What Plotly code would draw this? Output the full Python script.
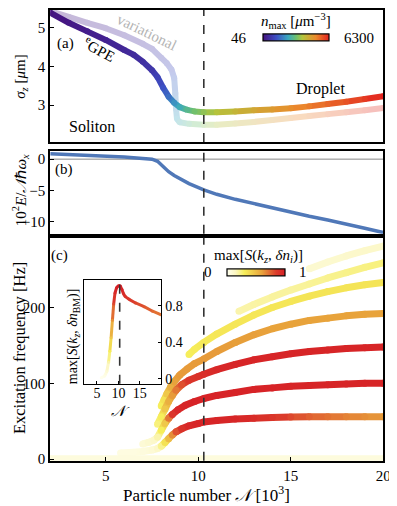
import numpy as np
import plotly.graph_objects as go
from plotly.colors import sample_colorscale, unlabel_rgb

W, H = 397, 506

# ---- panel (a): sigma_z vs N ----
N_egpe = [2, 3, 4, 5, 6, 6.5, 7, 7.5, 7.8, 8.1, 8.4, 8.7, 9.0, 9.4, 9.8, 10.3,
          11, 12, 13, 14, 15, 16, 17, 18, 19, 20]
sigma_egpe = [5.38, 5.12, 4.9, 4.68, 4.42, 4.3, 4.12, 3.9, 3.72, 3.45, 3.22, 3.06,
              2.95, 2.88, 2.84, 2.82, 2.82, 2.84, 2.87, 2.89, 2.92, 2.97, 3.03, 3.09, 3.16, 3.23]
nmax_egpe = [46, 50, 55, 60, 66, 70, 75, 85, 100, 125, 170, 240, 320, 430, 560, 690,
             900, 1150, 1450, 1800, 2200, 2700, 3300, 4000, 5000, 6300]

N_var = [2, 3, 4, 5, 6, 7, 7.5, 8, 8.3, 8.55, 8.7, 8.76, 8.8, 8.85, 9.0, 9.5, 10.3,
         11, 12, 13, 14, 15, 16, 17, 18, 19, 20]
sigma_var = [5.42, 5.27, 5.12, 4.98, 4.8, 4.58, 4.45, 4.22, 4.08, 3.92, 3.7, 3.3, 2.9,
             2.65, 2.56, 2.52, 2.5, 2.5, 2.53, 2.57, 2.62, 2.67, 2.72, 2.77, 2.82, 2.87, 2.93]
nmax_var = [46, 50, 55, 60, 66, 75, 80, 90, 100, 115, 140, 180, 230, 290, 340, 450, 650,
            850, 1100, 1400, 1750, 2150, 2650, 3250, 4000, 5000, 6300]
NMAX_MIN, NMAX_MAX = 46, 6300

# ---- panel (b): energy ----
N_energy = [2, 3, 4, 5, 6, 7, 7.5, 7.8, 8.1, 8.4, 8.7, 9.0, 9.5, 10.3, 11, 12, 13, 14,
            15, 16, 17, 18, 19, 20]
energy = [0.85, 0.75, 0.62, 0.5, 0.35, 0.12, 0.0, -0.35, -1.2, -2.0, -2.6, -3.1, -3.9,
          -4.9, -5.6, -6.4, -7.1, -7.8, -8.5, -9.1, -9.7, -10.3, -11.0, -11.7]
N_TRANS = 10.3

# ---- panel (c): excitation branches (N, freq [Hz], max S) ----
N0 = [2, 20]
f0 = [0.5, 0.5]
S0 = [0.06, 0.06]

N1 = [5.8, 6.5, 7.0, 7.5, 7.8, 8.0, 8.2, 8.4, 8.6, 8.8, 9.1, 9.5, 10.0, 10.3, 11, 12,
      13, 14, 15, 16, 17, 18, 19, 20]
f1 = [8, 9, 10, 12, 14, 17, 22, 27, 32, 36, 40, 44, 47, 49, 51, 53, 54, 55, 55.5, 56,
      56, 56, 56, 56]
S1 = [0.05, 0.05, 0.06, 0.08, 0.12, 0.22, 0.35, 0.5, 0.65, 0.8, 0.9, 0.95, 0.97, 0.97,
      0.97, 0.96, 0.93, 0.88, 0.82, 0.76, 0.72, 0.68, 0.65, 0.62]

N2 = [7.0, 7.3, 7.6, 7.8, 8.0, 8.2, 8.4, 8.6, 8.9, 9.3, 9.8, 10.3, 11, 12, 13, 14, 15,
      16, 17, 18, 19, 20]
f2 = [20, 22, 25, 29, 38, 47, 54, 59, 65, 71, 76, 80, 84, 88, 92, 94, 96, 97, 98, 99,
      100, 100]
S2 = [0.08, 0.1, 0.12, 0.18, 0.3, 0.45, 0.7, 0.88, 0.95, 0.97, 0.98, 0.98, 0.98, 0.98,
      0.98, 0.98, 0.97, 0.97, 0.97, 0.97, 0.97, 0.97]

N3 = [7.8, 8.0, 8.2, 8.4, 8.6, 8.8, 9.1, 9.5, 10.0, 10.3, 11, 12, 13, 14, 15, 16, 17,
      18, 19, 20]
f3 = [46, 56, 66, 76, 84, 91, 98, 104, 109, 112, 118, 125, 131, 135, 139, 142, 144,
      146, 147, 148]
S3 = [0.25, 0.3, 0.45, 0.55, 0.62, 0.7, 0.8, 0.88, 0.9, 0.92, 0.95, 0.97, 0.97, 0.97,
      0.97, 0.97, 0.97, 0.97, 0.97, 0.97]

N4 = [8.0, 8.15, 8.3, 8.5, 8.7, 9.0, 9.4, 9.8, 10.3, 11, 12, 13, 14, 15, 16, 17, 18,
      19, 20]
f4 = [70, 78, 86, 95, 102, 111, 119, 126, 132, 142, 154, 164, 172, 178, 183, 186, 189,
      191, 192]
S4 = [0.3, 0.35, 0.45, 0.55, 0.6, 0.62, 0.62, 0.62, 0.62, 0.62, 0.61, 0.61, 0.6, 0.6,
      0.6, 0.6, 0.6, 0.6, 0.6]

N5 = [9.5, 9.8, 10.3, 11, 12, 13, 14, 15, 16, 17, 18, 19, 20]
f5 = [138, 145, 154, 165, 178, 190, 200, 208, 215, 221, 226, 230, 233]
S5 = [0.3, 0.31, 0.32, 0.33, 0.33, 0.33, 0.33, 0.33, 0.34, 0.34, 0.34, 0.34, 0.34]

N6 = [12.2, 13, 14, 15, 16, 17, 18, 19, 20]
f6 = [195, 204, 214, 223, 231, 239, 246, 253, 259]
S6 = [0.18, 0.19, 0.2, 0.2, 0.21, 0.22, 0.23, 0.24, 0.25]

N7 = [16.0, 17, 18, 19, 20]
f7 = [251, 260, 268, 275, 281]
S7 = [0.1, 0.1, 0.11, 0.12, 0.12]

# ---- inset: max S vs N ----
N_in = [6.0, 6.8, 7.3, 7.7, 8.0, 8.3, 8.6, 8.9, 9.2, 9.6, 10.0, 10.4, 10.8, 11.2, 11.6,
        12.5, 14, 16, 18, 20]
S_in = [0.01, 0.03, 0.08, 0.18, 0.3, 0.45, 0.64, 0.82, 0.94, 1.0, 1.02, 1.02, 0.98,
        0.93, 0.9, 0.87, 0.83, 0.79, 0.74, 0.7]

FONT = "Liberation Serif"

cs_n = [[0, '#45127f'], [0.2, '#3d4fc4'], [0.38, '#3aa8c0'], [0.5, '#6cc070'],
        [0.6, '#b4c43c'], [0.8, '#eb8a2c'], [1, '#e3221f']]
cs_s = [[0, '#fffff0'], [0.15, '#fbf6c0'], [0.3, '#f6ee5a'], [0.6, '#e8a33b'],
        [0.85, '#db3b2b'], [1, '#d61f26']]


def lighten(col, a):
    r, g, b = unlabel_rgb(col)
    return 'rgb(%d,%d,%d)' % (r * a + 255 * (1 - a), g * a + 255 * (1 - a), b * a + 255 * (1 - a))


def grad_line(fig, x, y, val, cs, width, xa, ya, alpha=1.0, cbar=None):
    val = np.clip(np.asarray(val, float), 0, 1)
    mids = (val[:-1] + val[1:]) / 2
    seg_cols = sample_colorscale(cs, list(mids))
    pt_cols = sample_colorscale(cs, list(val))
    if alpha < 1:
        seg_cols = [lighten(c, alpha) for c in seg_cols]
        pt_cols = [lighten(c, alpha) for c in pt_cols]
    for i in range(len(x) - 1):
        fig.add_trace(go.Scatter(x=[x[i], x[i + 1]], y=[y[i], y[i + 1]], mode='lines',
                                 line=dict(color=seg_cols[i], width=width),
                                 xaxis=xa, yaxis=ya, hoverinfo='skip', showlegend=False))
    mk = dict(size=width, line_width=0)
    if cbar is not None:
        mk.update(color=list(val), colorscale=cs, cmin=0, cmax=1, showscale=True, colorbar=cbar)
    else:
        mk.update(color=pt_cols)
    fig.add_trace(go.Scatter(x=x, y=y, mode='markers', marker=mk, xaxis=xa, yaxis=ya,
                             hoverinfo='skip', showlegend=False))


fig = go.Figure()

lognorm = lambda arr: [np.log(v / NMAX_MIN) / np.log(NMAX_MAX / NMAX_MIN) for v in arr]

cb_a = dict(orientation='h', x=293 / W, xanchor='center', y=1 - 30 / H, yanchor='middle',
            len=88 / W, lenmode='fraction', thickness=7, outlinewidth=1.2, outlinecolor='black',
            showticklabels=False, ticks='')
cb_c = dict(orientation='h', x=252.5 / W, xanchor='center', y=1 - 268.5 / H, yanchor='middle',
            len=79 / W, lenmode='fraction', thickness=7, outlinewidth=1.2, outlinecolor='black',
            showticklabels=False, ticks='')

grad_line(fig, N_var, sigma_var, lognorm(nmax_var), cs_n, 6, 'x', 'y', alpha=0.3)
grad_line(fig, N_egpe, sigma_egpe, lognorm(nmax_egpe), cs_n, 6, 'x', 'y', cbar=cb_a)

fig.add_trace(go.Scatter(x=N_energy, y=energy, mode='lines', line=dict(color='#5078b8', width=3.5),
                         xaxis='x2', yaxis='y2', hoverinfo='skip', showlegend=False))

bands = [(N7, f7, S7), (N6, f6, S6), (N5, f5, S5), (N4, f4, S4), (N3, f3, S3),
         (N2, f2, S2), (N1, f1, S1), (N0, f0, S0)]
for k, (nn, ff, ss) in enumerate(bands):
    grad_line(fig, nn, ff, ss, cs_s, 7, 'x3', 'y3', cbar=cb_c if k == 0 else None)

grad_line(fig, N_in, S_in, S_in, cs_s, 3, 'x4', 'y4')

axis_common = dict(showline=True, mirror=True, linecolor='black', linewidth=2, showgrid=False,
                   zeroline=False, ticks='inside', ticklen=4, tickcolor='black',
                   tickfont=dict(family=FONT, size=15, color='black'))
xdom = [43 / W, 382 / W]
fig.update_layout(
    width=W, height=H, margin=dict(l=0, r=0, t=0, b=0),
    paper_bgcolor='white', plot_bgcolor='white',
    font=dict(family=FONT, size=15, color='black'),
    xaxis=dict(axis_common, domain=xdom, range=[2, 20], showticklabels=False, ticks='', anchor='y'),
    yaxis=dict(axis_common, domain=[1 - 136 / H, 1 - 2 / H], range=[2.05, 5.45], tickvals=[3, 4, 5], anchor='x'),
    xaxis2=dict(axis_common, domain=xdom, range=[2, 20], showticklabels=False, ticks='', anchor='y2'),
    yaxis2=dict(axis_common, domain=[1 - 229 / H, 1 - 145 / H], range=[-11.9, 1.3],
                tickvals=[-10, -5, 0], ticktext=['\u221210', '\u22125', '0'], anchor='x2'),
    xaxis3=dict(axis_common, domain=xdom, range=[2, 20], tickvals=[5, 10, 15, 20], anchor='y3'),
    yaxis3=dict(axis_common, domain=[1 - 459 / H, 1 - 233 / H], range=[-2, 292],
                tickvals=[0, 100, 200], anchor='x3'),
    xaxis4=dict(axis_common, domain=[77.5 / W, 156 / W], range=[2, 20], tickvals=[5, 10, 15],
                linewidth=1.2, anchor='y4', ticklen=3, ticklabelstandoff=-4,
                tickfont=dict(family=FONT, size=14, color='black')),
    yaxis4=dict(axis_common, domain=[1 - 381 / H, 1 - 276 / H], range=[-0.055, 1.08],
                tickvals=[0, 0.4, 0.8], ticktext=['0', '0.4', '0.8'], side='right',
                linewidth=1.2, anchor='x4', ticklen=3, tickfont=dict(family=FONT, size=14, color='black')),
)

shapes = []
for xa, ya in [('x', 'y'), ('x2', 'y2'), ('x3', 'y3'), ('x4', 'y4')]:
    shapes.append(dict(type='line', xref=xa, yref=ya + ' domain', x0=N_TRANS, x1=N_TRANS, y0=0, y1=1,
                       line=dict(color='#333333', width=1.6, dash='dash')))
shapes.append(dict(type='line', xref='x2 domain', yref='y2', x0=0, x1=1, y0=0, y1=0,
                   line=dict(color='#888888', width=1), layer='below'))
fig.update_layout(shapes=shapes)


def ann(text, px, py, size=15, color='black', angle=0, xanchor='center'):
    fig.add_annotation(text=text, x=px / W, y=1 - py / H, xref='paper', yref='paper',
                       showarrow=False, textangle=angle, xanchor=xanchor, yanchor='middle',
                       font=dict(family=FONT, size=size, color=color))


ann('(a)', 59, 36)
ann('<sup>e</sup>GPE', 93, 42, angle=28)
ann('variational', 141, 24, color='#b4b4b4', angle=26)
ann('Soliton', 86, 120, size=16)
ann('Droplet', 318, 82, size=16)
ann('<i>n</i><sub>max</sub> [<i>\u03bc</i>m<sup>\u22123</sup>]', 293, 13)
ann('46', 245, 30, xanchor='right')
ann('6300', 340, 30, xanchor='left')
ann('(b)', 57, 164)
ann('(c)', 52, 251)
ann('max[<i>S</i>(<i>k<sub>z</sub></i>, <i>\u03b4n<sub>i</sub></i>)]', 255, 251)
ann('0', 210, 268, xanchor='right')
ann('1', 294, 268, xanchor='left')
ann('<i>\u03c3<sub>z</sub></i> [<i>\u03bc</i>m]', 13, 70, angle=-90)
ann('10<sup>2</sup><i>E</i>/<i>\U0001D4A9</i>\u210f<i>\u03c9<sub>x</sub></i>', 13, 185, angle=-90)
ann('Excitation frequency [Hz]', 11, 345, size=16.5, angle=-90)
ann('Particle number <i>\U0001D4A9</i> [10<sup>3</sup>]', 202, 493, size=17)
ann('<i>\U0001D4A9</i>', 115, 409)
ann('max[<i>S</i>(<i>k<sub>z</sub></i>, <i>\u03b4n</i><sub>BM</sub>)]', 67, 333, size=14, angle=-90)

fig.write_html("out.html")
